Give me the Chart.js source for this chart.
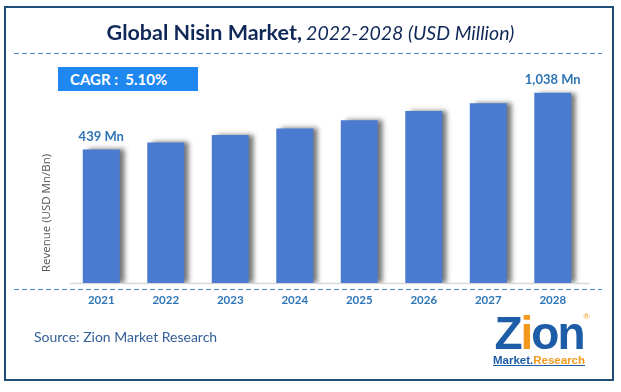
<!DOCTYPE html>
<html>
<head>
<meta charset="utf-8">
<script src="https://cdn.jsdelivr.net/npm/chart.js@4"></script>
<style>
  html, body { margin: 0; padding: 0; background: #fff; }
  #wrap { position: relative; width: 621px; height: 392px; overflow: hidden; font-family: Lato, "Open Sans", sans-serif; }
  #c { position: absolute; left: 0; top: 0; }
  .frame { position: absolute; left: 4px; top: 6px; width: 606px; height: 371px; border: 2px solid #1f4e79; box-sizing: content-box; pointer-events: none; }
  .title { position: absolute; left: 0; width: 621px; top: 19px; text-align: center; color: #0f2858; white-space: nowrap; }
  .title b { font-size: 21.5px; font-weight: 700; }
  .title i { font-size: 19.5px; font-weight: 400; }
  .cagr { position: absolute; left: 58px; top: 67px; width: 140px; height: 24px; background: #1e88f0; color: #fff; font-weight: 700; font-size: 15px; line-height: 24px; box-sizing: border-box; padding-left: 12px; white-space: pre; }
  .ylab { position: absolute; left: 45px; top: 213px; transform: translate(-50%, -50%) rotate(-90deg); color: #555; font-size: 11.5px; white-space: nowrap; font-family: "Open Sans", Lato, sans-serif; }
  .source { position: absolute; left: 34px; top: 328px; color: #34609a; font-size: 14px; white-space: nowrap; }
  .logo { position: absolute; left: 490px; top: 311px; width: 98px; text-align: center; }
  .logo .z { font-family: "Liberation Sans", Arial, sans-serif; font-weight: 900; font-size: 46px; color: #1d5ca6; letter-spacing: -2px; line-height: 44px; }
  .logo .z span.i { color: #f39a1e; }
  .logo .m { font-family: "Liberation Sans", Arial, sans-serif; font-weight: 700; font-size: 11.5px; line-height: 12px; margin-top: -1px; text-decoration: underline; text-decoration-color: #1d5ca6; }
  .logo .m .a { color: #1d5ca6; }
  .logo .m .b { color: #f39a1e; }
  .logo .r { position: absolute; right: -2px; top: 0px; font-size: 8px; color: #f39a1e; }
</style>
</head>
<body>
<div id="wrap">
  <canvas id="c" width="621" height="392"></canvas>
  <div class="frame"></div>
  <div class="title"><b>Global Nisin Market,</b> <i>2022-2028 (USD Million)</i></div>
  <div class="cagr" id="cagr"></div>
  <div class="ylab">Revenue (USD Mn/Bn)</div>
  <div class="source">Source: Zion Market Research</div>
  <div class="logo">
    <div class="z">Z<span class="i">i</span>on</div>
    <div class="m"><span class="a">Market.</span><span class="b">Research</span></div>
    <div class="r">®</div>
  </div>
</div>
<script>
// ---- data ----
const years = ['2021', '2022', '2023', '2024', '2025', '2026', '2027', '2028'];
const revenue = [439, 462, 486, 508, 535, 565, 591, 625];
const valueLabels = ['439 Mn', '', '', '', '', '', '', '1,038 Mn'];
const cagrText = 'CAGR :  5.10%';

document.getElementById('cagr').textContent = cagrText;

const decor = {
  id: 'decor',
  beforeDatasetsDraw(chart) {
    const ctx = chart.ctx, a = chart.chartArea;
    ctx.save();
    ctx.strokeStyle = '#d9d9d9';
    ctx.lineWidth = 1.5;
    ctx.beginPath();
    ctx.moveTo(a.left + 1, a.bottom + 0.5);
    ctx.lineTo(a.right + 5, a.bottom + 0.5);
    ctx.stroke();
    ctx.restore();
    ctx.save();
    ctx.shadowColor = 'rgba(0,0,0,0.55)';
    ctx.shadowOffsetX = 5;
    ctx.shadowOffsetY = 0;
    ctx.shadowBlur = 5;
  },
  afterDatasetsDraw(chart) {
    const ctx = chart.ctx;
    ctx.restore();
    const meta = chart.getDatasetMeta(0);
    ctx.save();
    ctx.font = 'bold 13px Lato, sans-serif';
    ctx.fillStyle = '#2e75b6';
    ctx.textAlign = 'center';
    ctx.textBaseline = 'middle';
    meta.data.forEach((bar, i) => {
      if (valueLabels[i]) ctx.fillText(valueLabels[i], bar.x, bar.y - 13);
    });
    ctx.restore();
  },
  afterDraw(chart) {
    const ctx = chart.ctx;
    ctx.save();
    ctx.strokeStyle = '#4f87cf';
    ctx.lineWidth = 1;
    ctx.setLineDash([5, 3]);
    ctx.beginPath();
    ctx.moveTo(14, 53.5);
    ctx.lineTo(602, 53.5);
    ctx.moveTo(14, 289.5);
    ctx.lineTo(602, 289.5);
    ctx.stroke();
    ctx.restore();
  }
};

new Chart(document.getElementById('c'), {
  type: 'bar',
  data: {
    labels: years,
    datasets: [{
      data: revenue,
      backgroundColor: '#4a7bd1',
      borderWidth: 0,
      categoryPercentage: 1,
      barPercentage: 0.573
    }]
  },
  options: {
    responsive: false,
    animation: false,
    events: [],
    layout: { padding: { left: 69, right: 36, top: 70, bottom: 0 } },
    plugins: { legend: { display: false }, tooltip: { enabled: false } },
    scales: {
      y: { display: false, min: 0, max: 700 },
      x: {
        grid: { display: false, drawTicks: false },
        border: { display: false },
        ticks: { color: '#2e75b6', font: { family: 'Lato', weight: 'bold', size: 11.5 }, padding: 10, maxRotation: 0 },
        afterFit(scale) { scale.height = 109; }
      }
    }
  },
  plugins: [decor]
});
</script>
</body>
</html>
